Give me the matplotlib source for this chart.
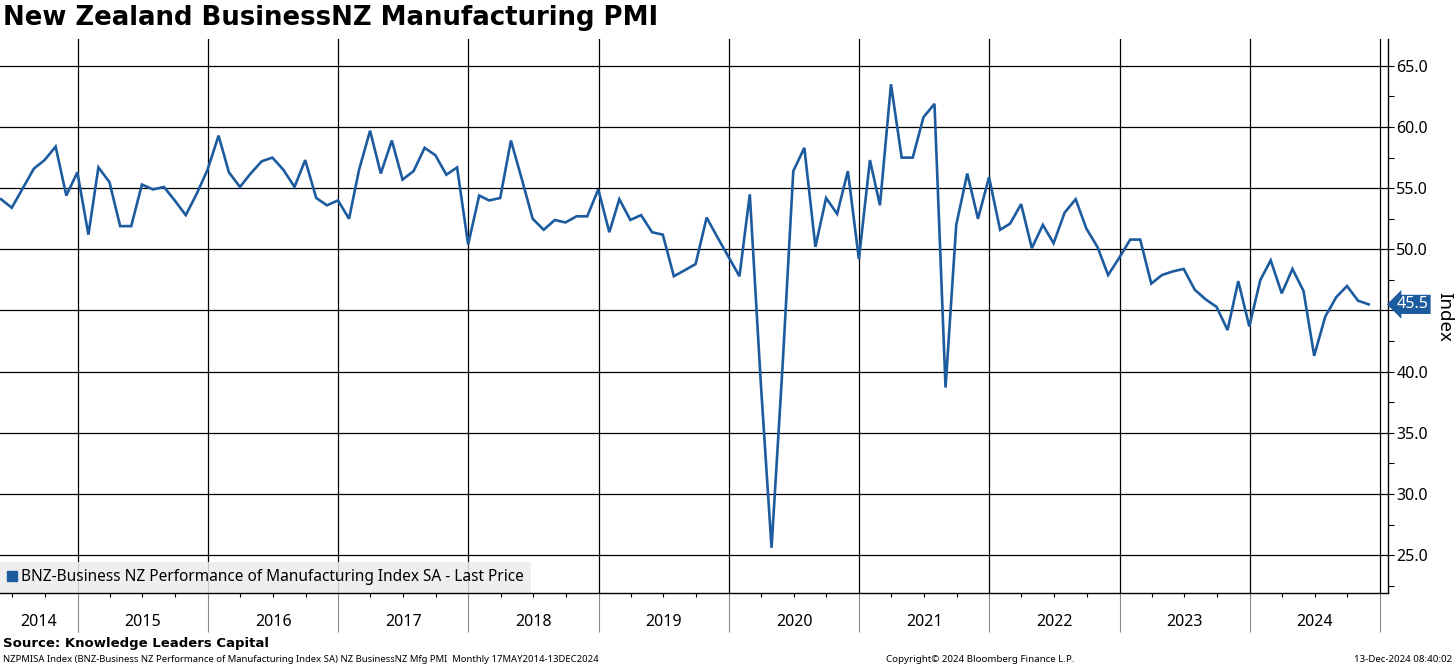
import matplotlib
matplotlib.use('Agg')
import matplotlib.pyplot as plt
import matplotlib.dates as mdates
from matplotlib.ticker import MultipleLocator, FuncFormatter, NullFormatter
from matplotlib.lines import Line2D
from matplotlib.transforms import blended_transform_factory
import pandas as pd

plt.rcParams['font.family'] = ['Noto Sans', 'DejaVu Sans']

# ---- data (monthly, May 2014 - Nov 2024) ----
dates = pd.date_range('2014-05-31', '2024-11-30', freq='ME')
values = [
    54.1, 53.4, 55.0, 56.6, 57.3, 58.4, 54.4, 56.3,              # 2014 May-Dec
    51.2, 56.7, 55.5, 51.9, 51.9, 55.3, 54.9, 55.1, 54.0, 52.8, 54.5, 56.5,   # 2015
    59.3, 56.3, 55.1, 56.2, 57.2, 57.5, 56.5, 55.1, 57.3, 54.2, 53.6, 54.0,   # 2016
    52.5, 56.5, 59.7, 56.2, 58.9, 55.7, 56.4, 58.3, 57.7, 56.1, 56.7, 50.4,   # 2017
    54.4, 54.0, 54.2, 58.9, 55.7, 52.5, 51.6, 52.4, 52.2, 52.7, 52.7, 54.9,   # 2018
    51.4, 54.1, 52.4, 52.8, 51.4, 51.2, 47.8, 48.3, 48.8, 52.6, 51.0, 49.4,   # 2019
    47.8, 54.5, 39.0, 25.6, 40.5, 56.4, 58.3, 50.2, 54.2, 52.9, 56.4, 49.2,   # 2020
    57.3, 53.6, 63.5, 57.5, 57.5, 60.8, 61.9, 38.7, 52.0, 56.2, 52.5, 55.9,   # 2021
    51.6, 52.1, 53.7, 50.1, 52.0, 50.5, 53.0, 54.1, 51.7, 50.2, 47.9, 49.3,   # 2022
    50.8, 50.8, 47.2, 47.9, 48.2, 48.4, 46.7, 45.9, 45.3, 43.4, 47.4, 43.7,   # 2023
    47.5, 49.1, 46.4, 48.4, 46.6, 41.3, 44.5, 46.1, 47.0, 45.8, 45.5,         # 2024 Jan-Nov
]
years = list(range(2014, 2025))
y_ticks = [25.0, 30.0, 35.0, 40.0, 45.0, 50.0, 55.0, 60.0, 65.0]
series_label = 'BNZ-Business NZ Performance of Manufacturing Index SA - Last Price'
title = 'New Zealand BusinessNZ Manufacturing PMI'
source = 'Source: Knowledge Leaders Capital'
footnote = ('NZPMISA Index (BNZ-Business NZ Performance of Manufacturing Index SA) '
            'NZ BusinessNZ Mfg PMI  Monthly 17MAY2014-13DEC2024')
copyright_txt = 'Copyright\u00a9 2024 Bloomberg Finance L.P.'
stamp = '13-Dec-2024 08:40:02'

BLUE = '#1d5b9f'
W, H = 1456, 666

fig = plt.figure(figsize=(W / 100, H / 100), dpi=100)
ax_top, ax_bot, ax_right = 39, 593, 1388
ax = fig.add_axes([0, 1 - ax_bot / H, ax_right / W, (ax_bot - ax_top) / H])

ax.plot(dates, values, color=BLUE, lw=1.9, zorder=3, solid_joinstyle='miter')

xmin = pd.Timestamp('2014-05-28')
xmax = pd.Timestamp('2025-01-23')
ax.set_xlim(xmin, xmax)
ax.set_ylim(21.9, 67.2)

last = values[-1]


def ytick_fmt(v, pos):
    # the last-value tag hides the tick label it sits on
    if abs(v - last) < 1.5:
        return ''
    return f'{v:.1f}'


# y axis on right
ax.set_yticks(y_ticks)
ax.yaxis.set_minor_locator(MultipleLocator(2.5))
ax.yaxis.set_major_formatter(FuncFormatter(ytick_fmt))
ax.tick_params(axis='y', which='both', left=False, right=True, labelleft=False,
               labelright=True, direction='out', length=4, width=0.8, pad=2,
               labelsize=11.5, colors='black')

# x axis: year boundaries as major ticks (gray separators below axis), quarters minor
year_bounds = [pd.Timestamp(f'{y + 1}-01-01') for y in years]
ax.set_xticks(year_bounds)
ax.xaxis.set_major_formatter(NullFormatter())
ax.xaxis.set_minor_locator(mdates.MonthLocator(bymonth=[4, 7, 10]))
ax.xaxis.set_minor_formatter(NullFormatter())
ax.tick_params(axis='x', which='major', direction='out', length=28, width=0.8,
               color='#8a8a8a')
ax.tick_params(axis='x', which='minor', direction='out', length=3, width=0.8,
               color='black')

ax.grid(axis='both', which='major', color='black', lw=0.9, zorder=1)
ax.set_axisbelow(True)

for s in ['left', 'top']:
    ax.spines[s].set_visible(False)
for s in ['right', 'bottom']:
    ax.spines[s].set_color('black')
    ax.spines[s].set_linewidth(1.0)

# year labels centered on visible part of each year
tr = blended_transform_factory(ax.transData, ax.transAxes)
for y in years:
    a = max(pd.Timestamp(f'{y}-01-01'), xmin)
    b = min(pd.Timestamp(f'{y + 1}-01-01'), pd.Timestamp('2025-01-01'))
    mid = a + (b - a) / 2
    ax.text(mid, -(622 - ax_bot) / (ax_bot - ax_top), str(y), transform=tr,
            ha='center', va='center', fontsize=11.5)

# legend
handle = Line2D([0], [0], marker='s', ms=7, color=BLUE, ls='none')
leg = ax.legend([handle], [series_label], loc='lower left', bbox_to_anchor=(0, 0),
                borderaxespad=0, frameon=True, fancybox=False, framealpha=0.85,
                facecolor='#ececec', edgecolor='none', fontsize=11.1,
                handlelength=0.6, handletextpad=0.25, borderpad=0.5)
leg.set_zorder(2)

# last value tag
trv = blended_transform_factory(ax.transAxes, ax.transData)
ax.text(1 + 9 / ax_right, last, f'{last:.1f}', transform=trv,
        ha='left', va='center', color='white', fontsize=11.5, zorder=5,
        bbox=dict(boxstyle='larrow,pad=0.1', fc=BLUE, ec='none'))

# axis title
fig.text(1444 / W, 1 - 317 / H, 'Index', rotation=-90, ha='center', va='center',
         fontsize=13.5)

# titles and footers
fig.text(3 / W, 1 - 18 / H, title, ha='left', va='center', fontsize=18.7,
         fontweight='bold', family='DejaVu Sans')
fig.text(3 / W, 1 - 643 / H, source, ha='left', va='center', fontsize=9.5,
         fontweight='bold', family='DejaVu Sans')
fig.text(3 / W, 1 - 659 / H, footnote, ha='left', va='center', fontsize=6.85)
fig.text(980 / W, 1 - 659 / H, copyright_txt, ha='center', va='center', fontsize=7)
fig.text(1452 / W, 1 - 659 / H, stamp, ha='right', va='center', fontsize=7)

fig.savefig('out.png', dpi=100)
